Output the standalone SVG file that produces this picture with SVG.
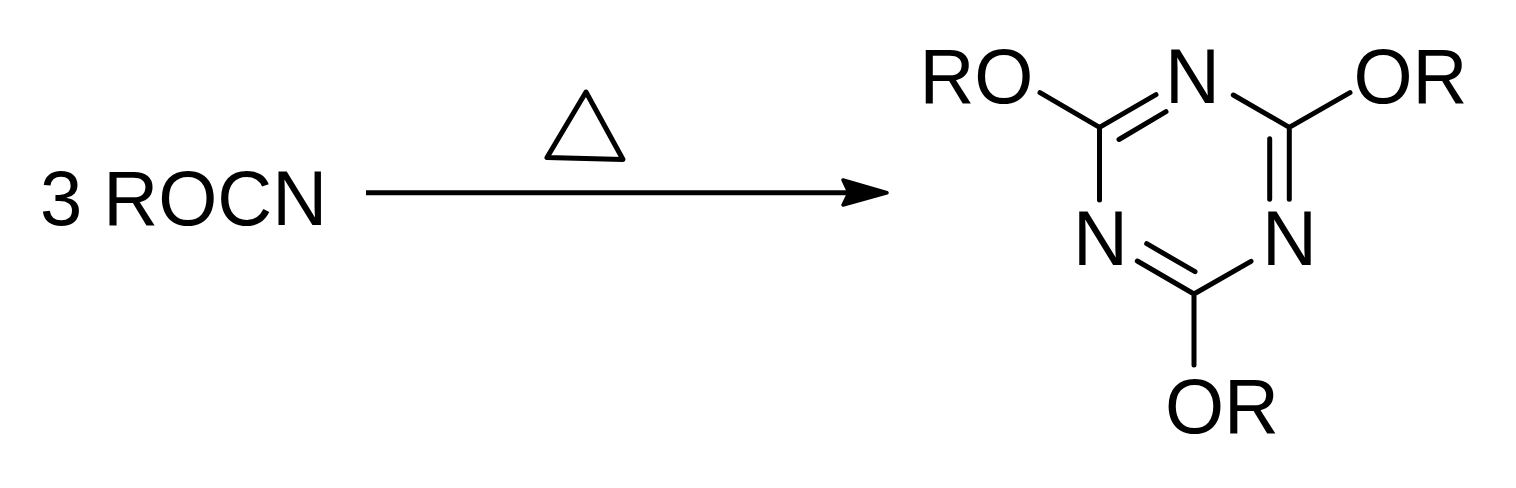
<svg xmlns="http://www.w3.org/2000/svg" width="1516" height="488" viewBox="0 0 1516 488">
<style>
text{font-family:"Liberation Sans",Arial,sans-serif;font-size:76px;fill:#000}
.b{fill:none;stroke:#000;stroke-width:5;stroke-linecap:round;stroke-linejoin:round}
</style>
<rect width="1516" height="488" fill="#fff"/>
<g id="reactant"><text transform="matrix(1 0 0 1.03 40 224.500)">3 ROCN</text></g>
<g id="heat"><path class="b" d="M586 92L547 157.500L623 159.500Z"/></g>
<g id="connectors">
<path d="M366 192.700H850" fill="none" stroke="#000" stroke-width="5"/>
<path d="M887 192.700L843 180L849 192.700L843 205Z" fill="#000" stroke="#000" stroke-width="3.500" stroke-linejoin="round"/>
</g>
<g id="ring">
<path class="b" d="M1099.500 127.300L1156 94.700M1119 139.500L1166 111.700M1099.500 127.300V200M1233.300 95L1289.300 127.300M1289.300 127.300V199.300M1269.700 138.700V199.300M1289.300 127.300L1350 92.700M1099.500 127.300L1040 92.700M1137.300 261L1194 294M1146.700 243.700L1195 271.700M1194 294L1251 261.300M1194 294V365"/>
</g>
<g id="n1"><text transform="matrix(1 0 0 1.03 1165 102.500)">N</text></g>
<g id="n2"><text transform="matrix(1 0 0 1.03 1073 264.500)">N</text></g>
<g id="n3"><text transform="matrix(1 0 0 1.03 1262 264.500)">N</text></g>
<g id="ro"><text transform="matrix(1 0 0 1.03 919.500 102.500)">RO</text></g>
<g id="or1"><text transform="matrix(1 0 0 1.03 1353.500 102.500)">OR</text></g>
<g id="or2"><text transform="matrix(1 0 0 1.03 1165 432.500)">OR</text></g>
</svg>
